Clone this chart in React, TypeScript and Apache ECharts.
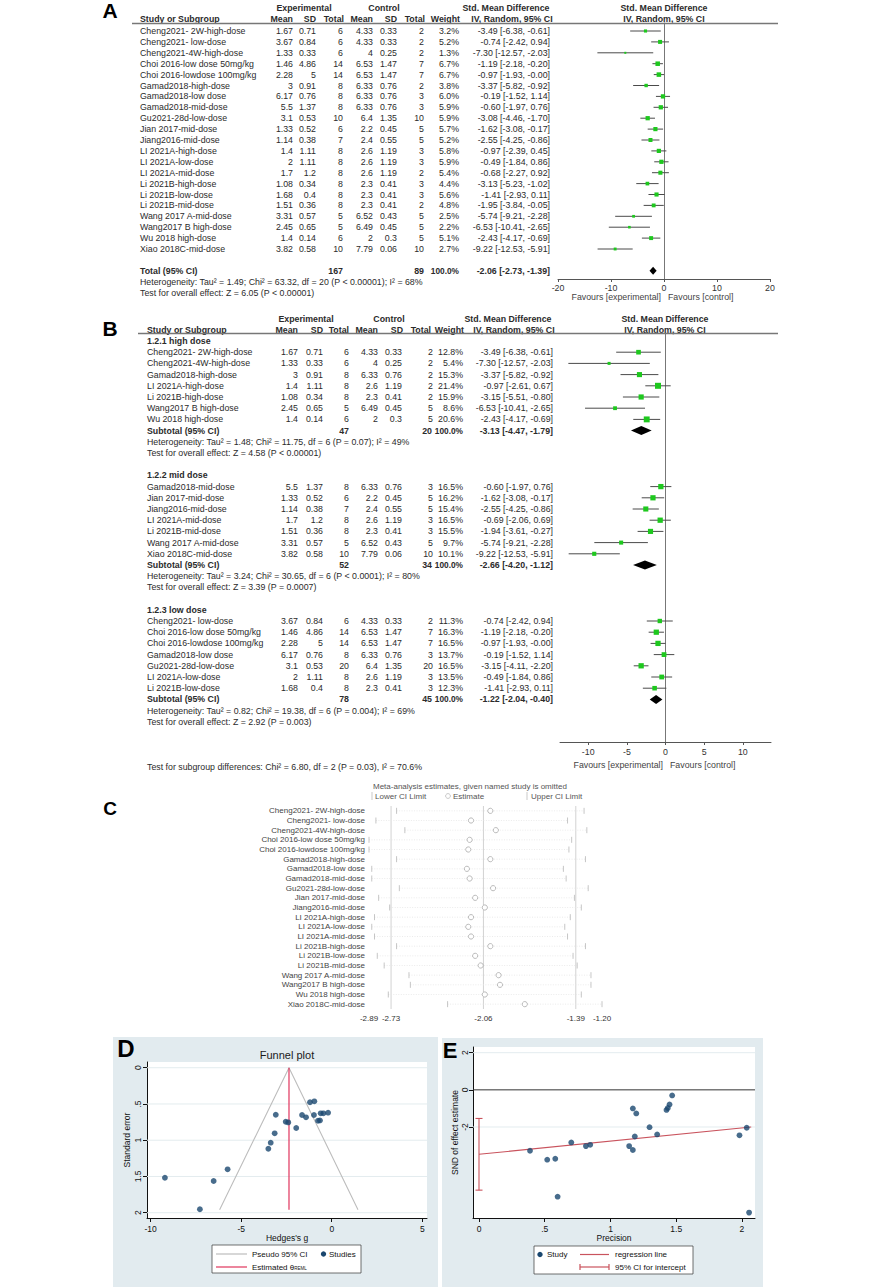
import React, { useEffect, useRef } from "react";
import * as echarts from "echarts";

const W = 892;
const H = 1287;
const FONT = "'Liberation Sans', Arial, Helvetica, sans-serif";
const TXT = "#2b2b2b";

// ---------------- Panel A data ----------------
const studiesA = ["Cheng2021- 2W-high-dose", "Cheng2021- low-dose", "Cheng2021-4W-high-dose", "Choi 2016-low dose 50mg/kg", "Choi 2016-lowdose 100mg/kg", "Gamad2018-high-dose", "Gamad2018-low dose", "Gamad2018-mid-dose", "Gu2021-28d-low-dose", "Jian 2017-mid-dose", "Jiang2016-mid-dose", "LI 2021A-high-dose", "LI 2021A-low-dose", "LI 2021A-mid-dose", "Li 2021B-high-dose", "Li 2021B-low-dose", "Li 2021B-mid-dose", "Wang 2017 A-mid-dose", "Wang2017 B high-dose", "Wu 2018 high-dose", "Xiao 2018C-mid-dose"];
const expMeanA = [1.67, 3.67, 1.33, 1.46, 2.28, 3, 6.17, 5.5, 3.1, 1.33, 1.14, 1.4, 2, 1.7, 1.08, 1.68, 1.51, 3.31, 2.45, 1.4, 3.82];
const expSdA = [0.71, 0.84, 0.33, 4.86, 5, 0.91, 0.76, 1.37, 0.53, 0.52, 0.38, 1.11, 1.11, 1.2, 0.34, 0.4, 0.36, 0.57, 0.65, 0.14, 0.58];
const expNA = [6, 6, 6, 14, 14, 8, 8, 8, 10, 6, 7, 8, 8, 8, 8, 8, 8, 5, 5, 6, 10];
const ctlMeanA = [4.33, 4.33, 4, 6.53, 6.53, 6.33, 6.33, 6.33, 6.4, 2.2, 2.4, 2.6, 2.6, 2.6, 2.3, 2.3, 2.3, 6.52, 6.49, 2, 7.79];
const ctlSdA = [0.33, 0.33, 0.25, 1.47, 1.47, 0.76, 0.76, 0.76, 1.35, 0.45, 0.55, 1.19, 1.19, 1.19, 0.41, 0.41, 0.41, 0.43, 0.45, 0.3, 0.06];
const ctlNA = [2, 2, 2, 7, 7, 2, 3, 3, 10, 5, 5, 3, 3, 2, 3, 3, 2, 5, 5, 5, 10];
const weightA = [3.2, 5.2, 1.3, 6.7, 6.7, 3.8, 6.0, 5.9, 5.9, 5.7, 5.2, 5.8, 5.9, 5.4, 4.4, 5.6, 4.8, 2.5, 2.2, 5.1, 2.7];
const smdA = [-3.49, -0.74, -7.3, -1.19, -0.97, -3.37, -0.19, -0.6, -3.08, -1.62, -2.55, -0.97, -0.49, -0.68, -3.13, -1.41, -1.95, -5.74, -6.53, -2.43, -9.22];
const loA = [-6.38, -2.42, -12.57, -2.18, -1.93, -5.82, -1.52, -1.97, -4.46, -3.08, -4.25, -2.39, -1.84, -2.27, -5.23, -2.93, -3.84, -9.21, -10.41, -4.17, -12.53];
const hiA = [-0.61, 0.94, -2.03, -0.2, -0.0, -0.92, 1.14, 0.76, -1.7, -0.17, -0.86, 0.45, 0.86, 0.92, -1.02, 0.11, -0.05, -2.28, -2.65, -0.69, -5.91];
const totalA = [-2.06, -2.73, -1.39];
const totalNA = [167, 89];
const hetA = "Heterogeneity: Tau² = 1.49; Chi² = 63.32, df = 20 (P < 0.00001); I² = 68%";
const testA = "Test for overall effect: Z = 6.05 (P < 0.00001)";

// ---------------- Panel B data ----------------
const groupNamesB = ["1.2.1 high dose", "1.2.2 mid dose", "1.2.3 low dose"];
const studiesB = [
  ["Cheng2021- 2W-high-dose", "Cheng2021-4W-high-dose", "Gamad2018-high-dose", "LI 2021A-high-dose", "Li 2021B-high-dose", "Wang2017 B high-dose", "Wu 2018 high-dose"],
  ["Gamad2018-mid-dose", "Jian 2017-mid-dose", "Jiang2016-mid-dose", "LI 2021A-mid-dose", "Li 2021B-mid-dose", "Wang 2017 A-mid-dose", "Xiao 2018C-mid-dose"],
  ["Cheng2021- low-dose", "Choi 2016-low dose 50mg/kg", "Choi 2016-lowdose 100mg/kg", "Gamad2018-low dose", "Gu2021-28d-low-dose", "LI 2021A-low-dose", "Li 2021B-low-dose"],
];
const expMeanB = [[1.67, 1.33, 3, 1.4, 1.08, 2.45, 1.4], [5.5, 1.33, 1.14, 1.7, 1.51, 3.31, 3.82], [3.67, 1.46, 2.28, 6.17, 3.1, 2, 1.68]];
const expSdB = [[0.71, 0.33, 0.91, 1.11, 0.34, 0.65, 0.14], [1.37, 0.52, 0.38, 1.2, 0.36, 0.57, 0.58], [0.84, 4.86, 5, 0.76, 0.53, 1.11, 0.4]];
const expNB = [[6, 6, 8, 8, 8, 5, 6], [8, 6, 7, 8, 8, 5, 10], [6, 14, 14, 8, 20, 8, 8]];
const ctlMeanB = [[4.33, 4, 6.33, 2.6, 2.3, 6.49, 2], [6.33, 2.2, 2.4, 2.6, 2.3, 6.52, 7.79], [4.33, 6.53, 6.53, 6.33, 6.4, 2.6, 2.3]];
const ctlSdB = [[0.33, 0.25, 0.76, 1.19, 0.41, 0.45, 0.3], [0.76, 0.45, 0.55, 1.19, 0.41, 0.43, 0.06], [0.33, 1.47, 1.47, 0.76, 1.35, 1.19, 0.41]];
const ctlNB = [[2, 2, 2, 2, 2, 5, 5], [3, 5, 5, 3, 3, 5, 10], [2, 7, 7, 3, 20, 3, 3]];
const weightB = [[12.8, 5.4, 15.3, 21.4, 15.9, 8.6, 20.6], [16.5, 16.2, 15.4, 16.5, 15.5, 9.7, 10.1], [11.3, 16.3, 16.5, 13.7, 16.5, 13.5, 12.3]];
const smdB = [[-3.49, -7.3, -3.37, -0.97, -3.15, -6.53, -2.43], [-0.6, -1.62, -2.55, -0.69, -1.94, -5.74, -9.22], [-0.74, -1.19, -0.97, -0.19, -3.15, -0.49, -1.41]];
const loB = [[-6.38, -12.57, -5.82, -2.61, -5.51, -10.41, -4.17], [-1.97, -3.08, -4.25, -2.06, -3.61, -9.21, -12.53], [-2.42, -2.18, -1.93, -1.52, -4.11, -1.84, -2.93]];
const hiB = [[-0.61, -2.03, -0.92, 0.67, -0.8, -2.65, -0.69], [0.76, -0.17, -0.86, 0.69, -0.27, -2.28, -5.91], [0.94, -0.2, -0.0, 1.14, -2.2, 0.86, 0.11]];
const subtotalB = [[-3.13, -4.47, -1.79], [-2.66, -4.2, -1.12], [-1.22, -2.04, -0.4]];
const subtotalNB = [[47, 20], [52, 34], [78, 45]];
const hetB = [
  "Heterogeneity: Tau² = 1.48; Chi² = 11.75, df = 6 (P = 0.07); I² = 49%",
  "Heterogeneity: Tau² = 3.24; Chi² = 30.65, df = 6 (P < 0.0001); I² = 80%",
  "Heterogeneity: Tau² = 0.82; Chi² = 19.38, df = 6 (P = 0.004); I² = 69%",
];
const testB = [
  "Test for overall effect: Z = 4.58 (P < 0.00001)",
  "Test for overall effect: Z = 3.39 (P = 0.0007)",
  "Test for overall effect: Z = 2.92 (P = 0.003)",
];
const subgroupTest = "Test for subgroup differences: Chi² = 6.80, df = 2 (P = 0.03), I² = 70.6%";
const ticksB = [-10, -5, 0, 5, 10];

// ---------------- Panel C data ----------------
const studiesC = studiesA;
const cLower = [-2.69, -2.84, -2.63, -2.89, -2.89, -2.69, -2.87, -2.87, -2.67, -2.82, -2.74, -2.85, -2.87, -2.85, -2.69, -2.83, -2.78, -2.6, -2.59, -2.75, -2.32];
const cEst = [-2.01, -2.15, -1.97, -2.16, -2.17, -2.01, -2.18, -2.16, -1.99, -2.12, -2.05, -2.15, -2.17, -2.15, -2.01, -2.12, -2.08, -1.95, -1.94, -2.05, -1.76];
const cUpper = [-1.33, -1.45, -1.31, -1.42, -1.44, -1.32, -1.48, -1.46, -1.3, -1.4, -1.35, -1.43, -1.47, -1.45, -1.32, -1.41, -1.38, -1.28, -1.28, -1.35, -1.2];
const cTicks = [-2.89, -2.73, -2.06, -1.39, -1.2];
const cRefLines = [-2.73, -2.06, -1.39];

// ---------------- Panel D data ----------------
const funnelG = [-1.2, -0.96, -3.09, -1.64, -1.42, -0.98, -0.61, -0.46, -0.2, -0.76, -0.65, -2.54, -2.4, -1.96, -3.15, -3.37, -3.5, -5.75, -9.21, -6.52, -7.28];
const funnelSE = [0.477, 0.464, 0.648, 0.652, 0.684, 0.652, 0.629, 0.629, 0.62, 0.731, 0.727, 0.745, 0.754, 0.832, 0.905, 1.034, 1.117, 1.402, 1.517, 1.563, 1.953];
const pseudoCI = [[-6.19, 1.96], [-2.36, 0], [1.45, 1.96]];
const thetaLine = [[-2.36, 0], [-2.36, 1.96]];
const dTicksX = [-10, -5, 0, 5];
const dTicksY = [0, 0.5, 1, 1.5, 2];

// ---------------- Panel E data ----------------
const precision = [0.388, 0.519, 0.58, 0.598, 0.702, 0.813, 0.846, 1.142, 1.17, 1.17, 1.196, 1.185, 1.297, 1.355, 1.426, 1.436, 1.449, 1.469, 1.981, 2.036, 2.054];
const snd = [-3.28, -3.76, -3.71, -5.75, -2.83, -3.03, -2.96, -3.03, -3.24, -1.0, -1.27, -2.51, -2.01, -2.4, -1.08, -0.98, -0.79, -0.3, -2.45, -2.04, -6.61];
const eggerLine = [[0, -3.47], [2.07, -2.0]];
const interceptCI = [-1.54, -5.4];
const eTicksX = [0, 0.5, 1, 1.5, 2];
const eTicksY = [-2, 0, 2];

// ---------------- helpers ----------------
const fmt2 = (v: number) => (v < 0 || Object.is(v, -0) ? "-" : "") + Math.abs(v).toFixed(2);
const ciText = (e: number, l: number, h: number) => `${fmt2(e)} [${fmt2(l)}, ${fmt2(h)}]`;
const stataNum = (v: number) => String(v).replace(/^0\./, ".").replace(/^-0\./, "-.");

function T(x: number, y: number, text: string, o: any = {}) {
  const align = o.align || "left";
  const style: any = {
    text,
    fill: o.color || TXT,
    fontSize: o.size || 8.8,
    fontFamily: o.family || FONT,
    fontWeight: o.bold ? "bold" : "normal",
    align,
    textAlign: align,
    verticalAlign: "middle",
    textVerticalAlign: "middle",
  };
  if (o.rich) style.rich = o.rich;
  return { type: "text", x, y, z: 20, silent: true, rotation: o.rotation || 0, style };
}
function L(x1: number, y1: number, x2: number, y2: number, stroke: string, lineWidth = 1, z = 20) {
  return { type: "line", z, silent: true, shape: { x1, y1, x2, y2 }, style: { stroke, lineWidth } };
}
function R(x: number, y: number, w: number, h: number, fill: string, z: number, stroke?: string) {
  return { type: "rect", z, silent: true, shape: { x, y, width: w, height: h }, style: { fill, stroke: stroke || "none", lineWidth: stroke ? 0.7 : 0 } };
}

// layout constants
const A_ROW0 = 31, A_STEP = 10.9, A_TOP = 23, A_BOT = 279;
const B_ROW0 = 341, B_STEP = 11.2, B_TOP = 333, B_BOT = 742;
const rowA = (i: number) => A_ROW0 + A_STEP * i;
const rowB = (i: number) => B_ROW0 + B_STEP * i;

const forestRender = (sq: string, lineColor: string) => (params: any, api: any) => {
  const est = api.value(0), lo = api.value(1), hi = api.value(2), row = api.value(3), size = api.value(4), kind = api.value(5);
  const pL = api.coord([lo, row]);
  const pH = api.coord([hi, row]);
  const pE = api.coord([est, row]);
  if (kind === 1) {
    return {
      type: "polygon",
      shape: { points: [[pL[0], pL[1]], [pE[0], pE[1] - size], [pH[0], pH[1]], [pE[0], pE[1] + size]] },
      style: { fill: "#000" },
    };
  }
  return {
    type: "group",
    children: [
      { type: "line", shape: { x1: pL[0], y1: pL[1], x2: pH[0], y2: pH[1] }, style: { stroke: lineColor, lineWidth: 1 } },
      { type: "rect", shape: { x: pE[0] - size / 2, y: pE[1] - size / 2, width: size, height: size }, style: { fill: sq } },
    ],
  };
};

function vlineSeries(xi: number, values: number[], yRef: number, stroke: string, lw = 1, dash?: number[]) {
  return {
    type: "custom", xAxisIndex: xi, yAxisIndex: xi, silent: true, z: 1,
    data: values.map((v) => [v]),
    encode: { x: 0 },
    renderItem: (params: any, api: any) => {
      const cs = params.coordSys;
      const x = api.coord([api.value(0), yRef])[0];
      return { type: "line", shape: { x1: x, y1: cs.y, x2: x, y2: cs.y + cs.height }, style: { stroke, lineWidth: lw, lineDash: dash } };
    },
  };
}
function hlineSeries(xi: number, values: number[], xRef: number, stroke: string, lw = 1) {
  return {
    type: "custom", xAxisIndex: xi, yAxisIndex: xi, silent: true, z: 1,
    data: values.map((v) => [xRef, v]),
    renderItem: (params: any, api: any) => {
      const cs = params.coordSys;
      const y = api.coord([xRef, api.value(1)])[1];
      return { type: "line", shape: { x1: cs.x, y1: y, x2: cs.x + cs.width, y2: y }, style: { stroke, lineWidth: lw } };
    },
  };
}

function buildOption() {
  const g: any[] = [];
  const SQ = "#1ec81e";
  const CI = "#4a4a4a";
  const BG = "#e2ebef";
  const NAVY = "#1a476f";
  const PCT = 8.3;

  // Panel letters
  g.push(T(110, 10, "A", { size: 21, bold: true, color: "#000", align: "center" }));
  g.push(T(110, 328, "B", { size: 21, bold: true, color: "#000", align: "center" }));
  g.push(T(110, 808, "C", { size: 19, bold: true, color: "#000", align: "center" }));

  // ---------- Panel A table ----------
  const colA = [293, 316, 343, 373, 397, 424, 459, 550];
  const hdrA = [293, 316, 344, 373, 397, 425, 460];
  g.push(T(304, 8, "Experimental", { bold: true, align: "center" }));
  g.push(T(384, 8, "Control", { bold: true, align: "center" }));
  g.push(T(506, 8, "Std. Mean Difference", { bold: true, align: "center" }));
  g.push(T(664, 8, "Std. Mean Difference", { bold: true, align: "center" }));
  const hdr2 = ["Mean", "SD", "Total", "Mean", "SD", "Total", "Weight"];
  g.push(T(140, 19, "Study or Subgroup", { bold: true }));
  hdr2.forEach((h, k) => g.push(T(hdrA[k], 19, h, { bold: true, align: "right" })));
  g.push(T(512, 19, "IV, Random, 95% CI", { bold: true, align: "center" }));
  g.push(T(664, 19, "IV, Random, 95% CI", { bold: true, align: "center" }));
  g.push(L(132, 23.5, 778, 23.5, "#777", 1.3));
  studiesA.forEach((s, i) => {
    const y = rowA(i);
    g.push(T(140, y, s));
    const vals = [String(expMeanA[i]), String(expSdA[i]), String(expNA[i]), String(ctlMeanA[i]), String(ctlSdA[i]), String(ctlNA[i]), weightA[i].toFixed(1) + "%"];
    vals.forEach((v, k) => g.push(T(colA[k], y, v, { align: "right" })));
    g.push(T(colA[7], y, ciText(smdA[i], loA[i], hiA[i]), { align: "right" }));
  });
  const yTot = rowA(22);
  g.push(T(140, yTot, "Total (95% CI)", { bold: true }));
  g.push(T(colA[2], yTot, String(totalNA[0]), { bold: true, align: "right" }));
  g.push(T(colA[5], yTot, String(totalNA[1]), { bold: true, align: "right" }));
  g.push(T(colA[6], yTot, "100.0%", { bold: true, align: "right", size: PCT }));
  g.push(T(colA[7], yTot, ciText(totalA[0], totalA[1], totalA[2]), { bold: true, align: "right" }));
  g.push(T(140, rowA(23), hetA));
  g.push(T(140, rowA(24), testA));
  g.push(T(661, 297, "Favours [experimental]", { align: "right", color: "#444" }));
  g.push(T(668, 297, "Favours [control]", { color: "#444" }));

  // ---------- Panel B table ----------
  const colB = [298, 323, 349, 378, 402, 433, 463, 553];
  const hdrB = [298, 323, 349, 378, 403, 431, 464];
  g.push(T(306, 319, "Experimental", { bold: true, align: "center" }));
  g.push(T(389, 319, "Control", { bold: true, align: "center" }));
  g.push(T(508, 319, "Std. Mean Difference", { bold: true, align: "center" }));
  g.push(T(665, 319, "Std. Mean Difference", { bold: true, align: "center" }));
  g.push(T(147, 330, "Study or Subgroup", { bold: true }));
  hdr2.forEach((h, k) => g.push(T(hdrB[k], 330, h, { bold: true, align: "right" })));
  g.push(T(514, 330, "IV, Random, 95% CI", { bold: true, align: "center" }));
  g.push(T(665, 330, "IV, Random, 95% CI", { bold: true, align: "center" }));
  g.push(L(138, 333.5, 778, 333.5, "#777", 1.3));
  const forestBData: any[] = [];
  groupNamesB.forEach((gn, gi) => {
    const base = gi * 12;
    g.push(T(147, rowB(base), gn, { bold: true }));
    studiesB[gi].forEach((s, j) => {
      const y = rowB(base + 1 + j);
      g.push(T(147, y, s));
      const vals = [String(expMeanB[gi][j]), String(expSdB[gi][j]), String(expNB[gi][j]), String(ctlMeanB[gi][j]), String(ctlSdB[gi][j]), String(ctlNB[gi][j]), weightB[gi][j].toFixed(1) + "%"];
      vals.forEach((v, k) => g.push(T(colB[k], y, v, { align: "right" })));
      g.push(T(colB[7], y, ciText(smdB[gi][j], loB[gi][j], hiB[gi][j]), { align: "right" }));
      forestBData.push([smdB[gi][j], loB[gi][j], hiB[gi][j], base + 1 + j, 1.3 * Math.sqrt(weightB[gi][j]), 0]);
    });
    const ys = rowB(base + 8);
    g.push(T(147, ys, "Subtotal (95% CI)", { bold: true }));
    g.push(T(colB[2], ys, String(subtotalNB[gi][0]), { bold: true, align: "right" }));
    g.push(T(colB[5] - 1, ys, String(subtotalNB[gi][1]), { bold: true, align: "right" }));
    g.push(T(colB[6], ys, "100.0%", { bold: true, align: "right", size: PCT }));
    g.push(T(colB[7], ys, ciText(subtotalB[gi][0], subtotalB[gi][1], subtotalB[gi][2]), { bold: true, align: "right" }));
    forestBData.push([subtotalB[gi][0], subtotalB[gi][1], subtotalB[gi][2], base + 8, 4.5, 1]);
    g.push(T(147, rowB(base + 9), hetB[gi]));
    g.push(T(147, rowB(base + 10), testB[gi]));
  });
  g.push(T(147, 767, subgroupTest));
  g.push(T(663, 765, "Favours [experimental]", { align: "right", color: "#444" }));
  g.push(T(670, 765, "Favours [control]", { color: "#444" }));

  // ---------- Panel C header ----------
  g.push(T(373, 786, "Meta-analysis estimates, given named study is omitted", { size: 8, color: "#555" }));
  g.push(L(372, 792, 372, 800, "#bbb", 0.8));
  g.push(T(375, 796, "Lower CI Limit", { size: 8, color: "#555" }));
  g.push({ type: "circle", z: 20, silent: true, shape: { cx: 448, cy: 796, r: 2.4 }, style: { fill: "none", stroke: "#bbb", lineWidth: 0.8 } });
  g.push(T(453, 796, "Estimate", { size: 8, color: "#555" }));
  g.push(L(527, 792, 527, 800, "#bbb", 0.8));
  g.push(T(531, 796, "Upper CI Limit", { size: 8, color: "#555" }));

  // ---------- Panel D / E backgrounds ----------
  g.push(R(113, 1037, 325, 250, BG, -10));
  g.push(R(442, 1038, 321, 249, BG, -10));
  g.push(R(147, 1062, 280, 156, "#fff", -5));
  g.push(R(473, 1047, 282, 171, "#fff", -5));
  g.push(T(126, 1048, "D", { size: 24, bold: true, color: "#000", align: "center" }));
  g.push(T(450, 1050, "E", { size: 22, bold: true, color: "#000", align: "center" }));
  g.push(T(287, 1055, "Funnel plot", { size: 11, color: "#1a1a1a", align: "center" }));
  // legend D
  g.push(R(212, 1245, 149, 28, "#fff", 15, "#333"));
  g.push(L(216, 1254, 247, 1254, "#bdbdbd", 1.2));
  g.push(T(252, 1254, "Pseudo 95% CI", { size: 8, color: "#111" }));
  g.push({ type: "circle", z: 20, silent: true, shape: { cx: 323.5, cy: 1254, r: 2.7 }, style: { fill: NAVY } });
  g.push(T(329, 1254, "Studies", { size: 8, color: "#111" }));
  g.push(L(216, 1267, 247, 1267, "#e0345c", 1.2));
  g.push(T(252, 1267, "Estimated θ{s|REML}", { size: 8, color: "#111", rich: { s: { fontSize: 4.5, fontFamily: FONT, fill: "#111", verticalAlign: "bottom" } } }));
  // legend E
  g.push(R(534, 1246, 159, 28, "#fff", 15, "#333"));
  g.push({ type: "circle", z: 20, silent: true, shape: { cx: 540, cy: 1254.5, r: 2.7 }, style: { fill: NAVY } });
  g.push(T(547, 1254.5, "Study", { size: 8, color: "#111" }));
  g.push(L(580, 1254.5, 609, 1254.5, "#c9535d", 1.2));
  g.push(T(615, 1254.5, "regression line", { size: 8, color: "#111" }));
  g.push(L(580, 1267, 609, 1267, "#c9535d", 1.2));
  g.push(L(580, 1264, 580, 1270, "#c9535d", 1.2));
  g.push(L(609, 1264, 609, 1270, "#c9535d", 1.2));
  g.push(T(615, 1267, "95% CI for intercept", { size: 8, color: "#111" }));

  const forestAData: any[] = studiesA.map((_, i) => [smdA[i], loA[i], hiA[i], i, 1.75 * Math.sqrt(weightA[i]), 0]);
  forestAData.push([totalA[0], totalA[1], totalA[2], 22, 4, 1]);

  const axisTxt = { fontFamily: FONT, color: "#333" };
  const stataLabel = { fontFamily: FONT, color: "#111", fontSize: 8.5 };

  return {
    animation: false,
    backgroundColor: "#fff",
    textStyle: { fontFamily: FONT },
    graphic: { elements: g },
    grid: [
      { left: 558, top: A_TOP, width: 212, height: A_BOT - A_TOP },
      { left: 560, top: B_TOP, width: 211, height: B_BOT - B_TOP },
      { left: 369, top: 806, width: 233, height: 203 },
      { left: 147, top: 1062, width: 280, height: 156 },
      { left: 473, top: 1047, width: 282, height: 171 },
    ],
    xAxis: [
      {
        gridIndex: 0, type: "value", min: -20, max: 20, interval: 10,
        axisLine: { onZero: false, lineStyle: { color: "#555", width: 1 } },
        axisTick: { length: 3, lineStyle: { color: "#555" } },
        axisLabel: { ...axisTxt, fontSize: 8.8, margin: 4 },
        splitLine: { show: false },
      },
      {
        gridIndex: 1, type: "value", min: -13.65, max: 13.65,
        axisLine: { onZero: false, lineStyle: { color: "#555", width: 1 } },
        axisTick: { length: 3, customValues: ticksB, lineStyle: { color: "#555" } },
        axisLabel: { ...axisTxt, fontSize: 8.8, margin: 5, customValues: ticksB },
        splitLine: { show: false },
      },
      {
        gridIndex: 2, type: "value", min: cTicks[0], max: cTicks[cTicks.length - 1],
        axisLine: { onZero: false, lineStyle: { color: "#c4c4c4", width: 1 } },
        axisTick: { length: 3, customValues: cTicks, lineStyle: { color: "#c4c4c4" } },
        axisLabel: { ...axisTxt, fontSize: 8, margin: 5, customValues: cTicks, formatter: (v: number) => v.toFixed(2) },
        splitLine: { show: false },
      },
      {
        gridIndex: 3, type: "value", min: -10.2, max: 5.26,
        name: "Hedges's g", nameLocation: "middle", nameGap: 15, nameTextStyle: { ...stataLabel },
        axisLine: { onZero: false, lineStyle: { color: "#111", width: 1 } },
        axisTick: { length: 4, customValues: dTicksX, lineStyle: { color: "#111" } },
        axisLabel: { ...stataLabel, margin: 6, customValues: dTicksX },
        splitLine: { show: false },
      },
      {
        gridIndex: 4, type: "value", min: -0.0456, max: 2.099,
        name: "Precision", nameLocation: "middle", nameGap: 15, nameTextStyle: { ...stataLabel },
        axisLine: { onZero: false, lineStyle: { color: "#111", width: 1 } },
        axisTick: { length: 4, customValues: eTicksX, lineStyle: { color: "#111" } },
        axisLabel: { ...stataLabel, margin: 6, customValues: eTicksX, formatter: (v: number) => stataNum(v) },
        splitLine: { show: false },
      },
    ],
    yAxis: [
      {
        gridIndex: 0, type: "value", inverse: true,
        min: (A_TOP - A_ROW0) / A_STEP, max: (A_BOT - A_ROW0) / A_STEP,
        axisLine: { show: true, onZero: true, lineStyle: { color: "#777", width: 1 } },
        axisTick: { show: false }, axisLabel: { show: false }, splitLine: { show: false },
      },
      {
        gridIndex: 1, type: "value", inverse: true,
        min: (B_TOP - B_ROW0) / B_STEP, max: (B_BOT - B_ROW0) / B_STEP,
        axisLine: { show: true, onZero: true, lineStyle: { color: "#777", width: 1 } },
        axisTick: { show: false }, axisLabel: { show: false }, splitLine: { show: false },
      },
      {
        gridIndex: 2, type: "category", inverse: true, data: studiesC,
        axisLine: { show: false }, axisTick: { show: false },
        axisLabel: { fontFamily: FONT, fontSize: 8, color: "#444", margin: 4, interval: 0 },
        splitLine: { show: false },
      },
      {
        gridIndex: 3, type: "value", inverse: true, min: -0.079, max: 2.073,
        name: "Standard error", nameLocation: "middle", nameGap: 16, nameRotate: 90, nameTextStyle: { ...stataLabel },
        axisLine: { show: true, onZero: false, lineStyle: { color: "#111", width: 1 } },
        axisTick: { show: true, length: 4, customValues: dTicksY, lineStyle: { color: "#111" } },
        axisLabel: { ...stataLabel, rotate: 90, margin: 5, customValues: dTicksY, formatter: (v: number) => stataNum(v) },
        splitLine: { show: false },
      },
      {
        gridIndex: 4, type: "value", min: -6.9, max: 2.307,
        name: "SND of effect estimate", nameLocation: "middle", nameGap: 14, nameRotate: 90, nameTextStyle: { ...stataLabel },
        axisLine: { show: true, onZero: false, lineStyle: { color: "#111", width: 1 } },
        axisTick: { show: true, length: 4, customValues: eTicksY, lineStyle: { color: "#111" } },
        axisLabel: { ...stataLabel, rotate: 90, margin: 4, customValues: eTicksY },
        splitLine: { show: false },
      },
    ],
    series: [
      {
        type: "custom", xAxisIndex: 0, yAxisIndex: 0, silent: true, z: 3,
        encode: { x: [0, 1, 2], y: 3 },
        data: forestAData,
        renderItem: forestRender(SQ, CI),
      },
      {
        type: "custom", xAxisIndex: 1, yAxisIndex: 1, silent: true, z: 3,
        encode: { x: [0, 1, 2], y: 3 },
        data: forestBData,
        renderItem: forestRender(SQ, CI),
      },
      vlineSeries(2, cRefLines, 0, "#d2d2d2", 1),
      {
        type: "custom", xAxisIndex: 2, yAxisIndex: 2, silent: true, z: 3,
        encode: { x: [0, 1, 2], y: 3 },
        data: cLower.map((l, i) => [l, cEst[i], cUpper[i], i]),
        renderItem: (params: any, api: any) => {
          const row = api.value(3);
          const pL = api.coord([api.value(0), row]);
          const pE = api.coord([api.value(1), row]);
          const pU = api.coord([api.value(2), row]);
          return {
            type: "group",
            children: [
              { type: "line", shape: { x1: pL[0], y1: pL[1], x2: pU[0], y2: pU[1] }, style: { stroke: "#e6e6e6", lineWidth: 0.8, lineDash: [1, 1.5] } },
              { type: "line", shape: { x1: pL[0], y1: pL[1] - 3, x2: pL[0], y2: pL[1] + 3 }, style: { stroke: "#b8b8b8", lineWidth: 0.8 } },
              { type: "line", shape: { x1: pU[0], y1: pU[1] - 3, x2: pU[0], y2: pU[1] + 3 }, style: { stroke: "#b8b8b8", lineWidth: 0.8 } },
              { type: "circle", shape: { cx: pE[0], cy: pE[1], r: 2.6 }, style: { fill: "#fff", stroke: "#a8a8a8", lineWidth: 0.8 } },
            ],
          };
        },
      },
      hlineSeries(3, dTicksY, 0, "#e3ecef", 1),
      {
        type: "line", xAxisIndex: 3, yAxisIndex: 3, silent: true, z: 3,
        data: pseudoCI, showSymbol: false, symbol: "none",
        lineStyle: { color: "#bdbdbd", width: 1.1 },
      },
      {
        type: "line", xAxisIndex: 3, yAxisIndex: 3, silent: true, z: 3,
        data: thetaLine, showSymbol: false, symbol: "none",
        lineStyle: { color: "#e0345c", width: 1.2 },
      },
      {
        type: "scatter", xAxisIndex: 3, yAxisIndex: 3, silent: true, z: 4,
        data: funnelG.map((v, i) => [v, funnelSE[i]]),
        symbolSize: 5.8, itemStyle: { color: NAVY },
      },
      hlineSeries(4, [eTicksY[0], eTicksY[2]], 0, "#e3ecef", 1),
      hlineSeries(4, [eTicksY[1]], 0, "#333", 1),
      {
        type: "line", xAxisIndex: 4, yAxisIndex: 4, silent: true, z: 3,
        data: eggerLine, showSymbol: false, symbol: "none",
        lineStyle: { color: "#c9535d", width: 1.1 },
      },
      {
        type: "custom", xAxisIndex: 4, yAxisIndex: 4, silent: true, z: 3,
        encode: { x: 0, y: [1, 2] },
        data: [[0, interceptCI[0], interceptCI[1]]],
        renderItem: (params: any, api: any) => {
          const p1 = api.coord([api.value(0), api.value(1)]);
          const p2 = api.coord([api.value(0), api.value(2)]);
          const st = { stroke: "#c9535d", lineWidth: 1.1 };
          return {
            type: "group",
            children: [
              { type: "line", shape: { x1: p1[0], y1: p1[1], x2: p2[0], y2: p2[1] }, style: st },
              { type: "line", shape: { x1: p1[0] - 3.5, y1: p1[1], x2: p1[0] + 3.5, y2: p1[1] }, style: st },
              { type: "line", shape: { x1: p2[0] - 3.5, y1: p2[1], x2: p2[0] + 3.5, y2: p2[1] }, style: st },
            ],
          };
        },
      },
      {
        type: "scatter", xAxisIndex: 4, yAxisIndex: 4, silent: true, z: 4,
        data: precision.map((v, i) => [v, snd[i]]),
        symbolSize: 5.8, itemStyle: { color: NAVY },
      },
    ],
  };
}

export default function App() {
  const ref = useRef<HTMLDivElement>(null);
  useEffect(() => {
    if (!ref.current) return;
    const chart = echarts.init(ref.current, null, { renderer: "svg", width: W, height: H });
    chart.setOption(buildOption() as any);
    return () => chart.dispose();
  }, []);
  return <div ref={ref} style={{ position: "absolute", left: 0, top: 0, width: W, height: H, background: "#fff" }} />;
}
